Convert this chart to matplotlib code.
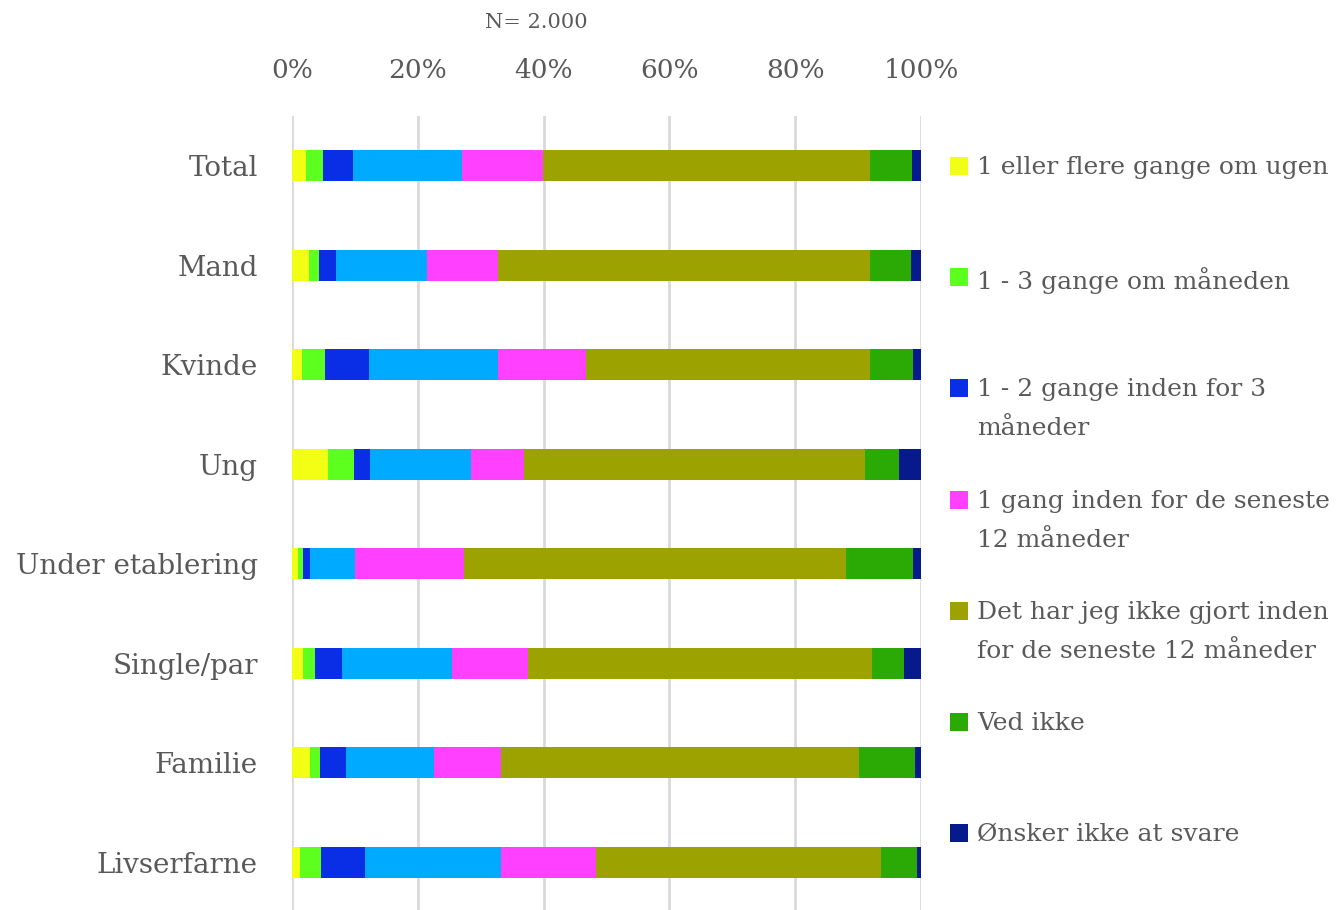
import matplotlib
matplotlib.use("Agg")
import matplotlib.pyplot as plt
from matplotlib.patches import Rectangle
import numpy as np

categories = ["Total", "Mand", "Kvinde", "Ung", "Under etablering",
              "Single/par", "Familie", "Livserfarne"]
colors = ["#F2FF14", "#5CFF1E", "#0A2DE6", "#00AAFF", "#FF40FF",
          "#9CA300", "#2BAA05", "#061A8C"]

# values in % per category, one list per series
s_weekly   = [2.2, 2.7, 1.6, 5.7, 0.9, 1.8, 2.9, 1.2]
s_monthly  = [2.7, 1.6, 3.7, 4.2, 0.8, 1.8, 1.6, 3.4]
s_3months  = [4.8, 2.7, 7.0, 2.5, 1.2, 4.4, 4.1, 7.0]
s_12months = [17.4, 14.4, 20.4, 16.1, 7.1, 17.4, 14.0, 21.7]
s_once12   = [12.8, 11.4, 14.1, 8.4, 17.3, 12.1, 10.7, 15.1]
s_notdone  = [52.0, 59.1, 45.1, 54.2, 60.8, 54.7, 56.9, 45.3]
s_dontknow = [6.7, 6.5, 6.9, 5.4, 10.6, 5.1, 8.8, 5.6]
s_noanswer = [1.4, 1.6, 1.2, 3.5, 1.3, 2.7, 1.0, 0.7]

legend_labels = [
    "1 eller flere gange om ugen",
    "1 - 3 gange om måneden",
    "1 - 2 gange inden for 3\nmåneder",
    "1 gang inden for de seneste\n12 måneder",
    "Det har jeg ikke gjort inden\nfor de seneste 12 måneder",
    "Ved ikke",
    "Ønsker ikke at svare",
]
legend_colors = ["#F2FF14", "#5CFF1E", "#0A2DE6", "#FF40FF", "#9CA300",
                 "#2BAA05", "#061A8C"]
tick_labels = ["0%", "20%", "40%", "60%", "80%", "100%"]

series = [s_weekly, s_monthly, s_3months, s_12months, s_once12,
          s_notdone, s_dontknow, s_noanswer]

TXT = "#595959"
FONT = "DejaVu Serif"

W, H = 1337, 910
fig = plt.figure(figsize=(W / 100, H / 100), dpi=100)
ax = fig.add_axes([292 / W, 0, 629 / W, (910 - 116) / H])

y = np.arange(len(categories))
tot = np.array([sum(s[i] for s in series) for i in range(len(categories))])
left = np.zeros(len(categories))
for vals, c in zip(series, colors):
    v = np.array(vals) / tot * 100
    ax.barh(y, v, left=left, height=0.31, color=c, edgecolor="none", zorder=3)
    left += v

ax.set_xlim(0, 100)
ax.set_ylim(7.48, -0.5)
ax.set_xticks([0, 20, 40, 60, 80, 100])
ax.set_xticklabels(tick_labels)
ax.xaxis.tick_top()
ax.grid(axis="x", color="#D9D9D9", linewidth=2, zorder=0)
for s in ax.spines.values():
    s.set_visible(False)
ax.tick_params(axis="x", length=0, pad=24, labelsize=19, labelcolor=TXT)
ax.tick_params(axis="y", length=0, pad=24.5, labelsize=20, labelcolor=TXT)
ax.set_yticks(y)
ax.set_yticklabels(categories)
for lab in ax.get_xticklabels() + ax.get_yticklabels():
    lab.set_fontfamily(FONT)

fig.text(536 / W, 1 - 22 / H, "N= 2.000", ha="center", va="center",
         fontsize=15, color=TXT, family=FONT)

# legend
leg_y = [166, 277, 388, 500, 611, 722, 833]
for lab, c, yy in zip(legend_labels, legend_colors, leg_y):
    fig.patches.append(Rectangle((950 / W, 1 - (yy + 9) / H), 18 / W, 18 / H,
                                 transform=fig.transFigure, facecolor=c,
                                 edgecolor="none"))
    fig.text(977 / W, 1 - (yy - 10) / H, lab, ha="left", va="top",
             fontsize=18, color=TXT, family=FONT, linespacing=1.9)

fig.savefig("out.png", dpi=100)
